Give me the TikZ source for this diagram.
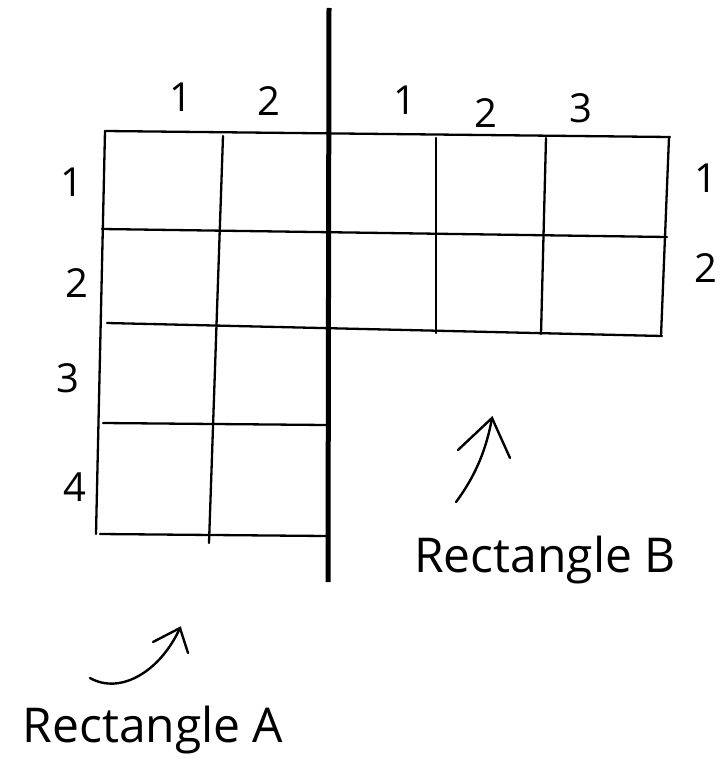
\documentclass[tikz,border=0pt]{standalone}
\usepackage{fontspec}
\setmainfont{Open Sans}
\begin{document}
\begin{tikzpicture}[x=1pt,y=-1pt,
  gridline/.style={line width=2.3pt,line cap=round},
  divider/.style={line width=5pt},
  lbl/.style={font=\fontsize{40}{40}\selectfont,inner sep=0pt},
  captiontext/.style={font=\fontsize{48}{48}\selectfont,inner sep=0pt},
  pointer/.style={line width=2.4pt,line cap=round}]
\useasboundingbox (0,0) rectangle (726,765);
% Rectangle A and B grid
\draw[gridline] (105,131) -- (670,137);          % common top
\draw[gridline] (102,229) -- (667,237);          % row 1/2
\draw[gridline] (107,323) -- (662,336);          % row 2/3 (bottom of B)
\draw[gridline] (103,423) -- (326,425);          % row 3/4
\draw[gridline] (100,534) -- (326,536);          % bottom of A
\draw[gridline] (105,131) -- (96,534);           % left of A
\draw[gridline] (223,136) -- (209,543);          % inner A
\draw[gridline] (436,138) -- (436,333);          % B col 1/2
\draw[gridline] (546,138) -- (541,334);          % B col 2/3
\draw[gridline] (669,137) -- (661,336);          % right of B
% divider
\draw[divider] (329,8) -- (328,582);
% column / row labels
\node[lbl] (ta1) at (181,97) {1};
\node[lbl] (ta2) at (269,101) {2};
\node[lbl] (tb1) at (405,100) {1};
\node[lbl] (tb2) at (486,113) {2};
\node[lbl] (tb3) at (581,108) {3};
\node[lbl] (la1) at (72,182) {1};
\node[lbl] (la2) at (77,283) {2};
\node[lbl] (la3) at (68,378) {3};
\node[lbl] (la4) at (75,487) {4};
\node[lbl] (rb1) at (706,178) {1};
\node[lbl] (rb2) at (706,268) {2};
% captions
\node[captiontext] (capB) at (545,560) {Rectangle B};
\node[captiontext] (capA) at (153,730) {Rectangle A};
% arrows
\coordinate (bt) at (456,502);
\coordinate (bh) at (492,418);
\coordinate (bl) at (458,450);
\coordinate (br) at (510,458);
\draw[pointer] (bt) .. controls (480,470) and (488,440) .. (bh);
\draw[pointer] (bl) -- (bh) -- (br);
\coordinate (at) at (90,678);
\coordinate (ah) at (180,628);
\coordinate (al) at (153,642);
\coordinate (ar) at (188,653);
\draw[pointer] (at) .. controls (120,695) and (160,672) .. (ah);
\draw[pointer] (al) -- (ah) -- (ar);
\end{tikzpicture}
\end{document}
